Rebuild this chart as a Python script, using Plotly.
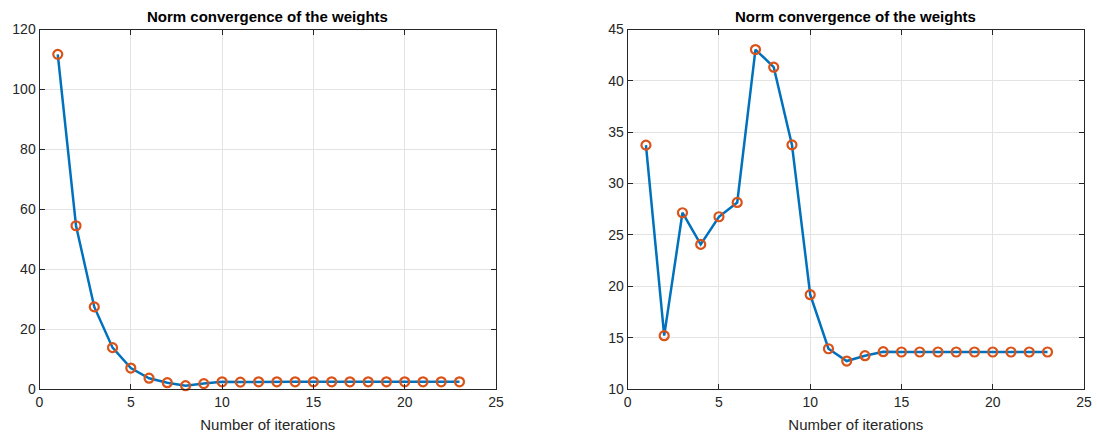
import plotly.graph_objects as go

iters = list(range(1, 24))
norm_left = [111.7, 54.5, 27.4, 13.8, 7.0, 3.6, 2.1, 1.1, 1.8, 2.4, 2.3, 2.4, 2.4, 2.4, 2.4,
             2.4, 2.4, 2.4, 2.4, 2.4, 2.4, 2.4, 2.4]
norm_right = [33.74, 15.19, 27.16, 24.08, 26.77, 28.16, 43.05, 41.33, 33.77, 19.18, 13.92,
              12.72, 13.24, 13.63, 13.6, 13.6, 13.6, 13.6, 13.6, 13.6, 13.6, 13.6, 13.6]
title_text = "Norm convergence of the weights"
xlabel = "Number of iterations"

W, H = 1097, 437
line_col = "#0072BD"
mk_col = "#D95319"
ax_col = "#262626"
grid_col = "#E3E3E3"
font = "Liberation Sans, Arial, sans-serif"

fig = go.Figure()
for i, (ys, xa, ya) in enumerate([(norm_left, "x", "y"), (norm_right, "x2", "y2")]):
    fig.add_trace(go.Scatter(
        x=iters, y=ys, xaxis=xa, yaxis=ya, mode="lines+markers",
        line=dict(color=line_col, width=2.5),
        marker=dict(symbol="circle-open", size=9, color=mk_col, line=dict(width=2.2, color=mk_col)),
        showlegend=False, cliponaxis=False))

def px_x(p): return p / W
def px_y(p): return 1 - p / H

dom_y = [px_y(389), px_y(29.5)]
common_ax = dict(showline=True, linecolor=ax_col, linewidth=1, mirror="ticks", ticks="inside",
                 ticklen=5, tickcolor=ax_col, showgrid=True, gridcolor=grid_col, gridwidth=1,
                 zeroline=False, tickfont=dict(family=font, size=14, color=ax_col), automargin=False)

fig.update_layout(
    width=W, height=H, margin=dict(l=0, r=0, t=0, b=0),
    paper_bgcolor="white", plot_bgcolor="white",
    xaxis=dict(domain=[px_x(39.5), px_x(496)], range=[0, 25], dtick=5, anchor="y",
               title=dict(text=xlabel, font=dict(family=font, size=15, color=ax_col), standoff=10), **common_ax),
    yaxis=dict(domain=dom_y, range=[0, 120], dtick=20, anchor="x", **common_ax),
    xaxis2=dict(domain=[px_x(627.7), px_x(1084)], range=[0, 25], dtick=5, anchor="y2",
                title=dict(text=xlabel, font=dict(family=font, size=15, color=ax_col), standoff=10), **common_ax),
    yaxis2=dict(domain=dom_y, range=[10, 45], dtick=5, anchor="x2", **common_ax),
)

for cx in [(39.5 + 496) / 2, (627.7 + 1084) / 2]:
    fig.add_annotation(x=px_x(cx), y=px_y(17), xref="paper", yref="paper", text="<b>" + title_text + "</b>",
                       showarrow=False, xanchor="center", yanchor="middle",
                       font=dict(family=font, size=15, color="black"))

fig.write_html("out.html")
